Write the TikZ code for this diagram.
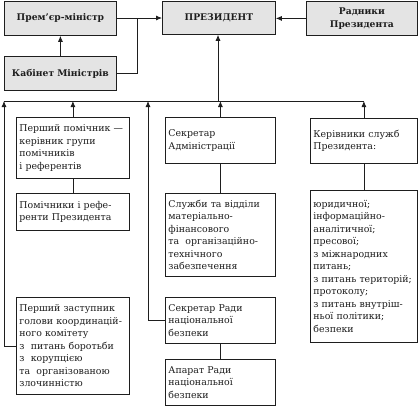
\documentclass[tikz,border=0pt]{standalone}
\usepackage{fontspec}
\setmainfont{DejaVu Serif}
\usetikzlibrary{arrows.meta}
\definecolor{boxgray}{HTML}{E4E4E4}
\definecolor{ink}{HTML}{1E1E1E}
\tikzset{
  bx/.style={draw=ink, line width=0.8pt, inner xsep=3pt, inner ysep=2pt, anchor=north west,
    align=left, text=ink, font=\fontsize{9.4}{12.5}\selectfont},
  topbx/.style={bx, fill=boxgray, align=center, font=\fontsize{9.2}{12.5}\selectfont\bfseries},
  sz/.style 2 args={minimum width=#1pt, minimum height=#2pt, text width={\dimexpr#1pt-6pt\relax}},
  con/.style={draw=ink, line width=0.8pt},
  arr/.style={con, -{Latex[length=6pt,width=5pt]}}
}
\begin{document}
\begin{tikzpicture}[x=1pt,y=-1pt]
\useasboundingbox (0,0) rectangle (419,407);
% top row
\node[topbx, sz={112}{34}] (pm) at (4,1) {Прем’єр-міністр};
\node[topbx, sz={112}{34}] (km) at (4,56) {Кабінет Міністрів};
\node[topbx, sz={113}{33}] (pres) at (162,1) {ПРЕЗИДЕНТ};
\node[topbx, sz={111}{34}] (rad) at (306,1) {Радники\\Президента};
% lower boxes
\node[bx, sz={113}{61}] (fh) at (16,117) {Перший помічник —\\керівник групи\\помічників\\і референтів};
\node[bx, sz={113}{37}] (pr) at (16,193) {Помічники і рефе-\\ренти Президента};
\node[bx, sz={113}{97}] (fz) at (16,297) {Перший заступник\\голови координацій-\\ного комітету\\з\ \ питань боротьби\\з\ \ корупцією\\та\ \ організованою\\злочинністю};
\node[bx, sz={110}{46}] (sa) at (165,117) {Секретар\\Адміністрації};
\node[bx, sz={110}{83}] (sl) at (165,193) {Служби та відділи\\матеріально-\\фінансового\\та\ \ організаційно-\\технічного\\забезпечення};
\node[bx, sz={110}{46}] (sr) at (165,297) {Секретар Ради\\національної\\безпеки};
\node[bx, sz={110}{46}] (ap) at (165,359) {Апарат Ради\\національної\\безпеки};
\node[bx, sz={107}{45}] (kc) at (310,118) {Керівники служб\\Президента:};
\node[bx, sz={107}{152}] (ks) at (310,190) {юридичної;\\інформаційно-\\аналітичної;\\пресової;\\з міжнародних\\питань;\\з питань територій;\\протоколу;\\з питань внутріш-\\ньої політики;\\безпеки};
% bus
\coordinate (busL) at (4,101);
\coordinate (busR) at (364,101);
\coordinate (kmj) at (137,18);
\coordinate (pbus) at (218,101);
\coordinate (sbus) at (148,101);
\draw[con] (busL) -- (busR);
% top connectors
\draw[arr] (km.north) -- (pm.south);
\draw[arr] (pm.east |- kmj) -- (pres.west |- kmj);
\draw[con] (km.east) -| (kmj);
\draw[arr] (rad.west) -- (pres.east |- rad.west);
\draw[arr] (pbus) -- (pbus |- pres.south);
% lower connectors
\draw[arr] (fz.west) -| (busL);
\draw[arr] (fh.north) -- (fh.north |- busL);
\draw[con] (pr.north) -- (fh.south);
\draw[arr] (sr.west) -| (sbus);
\draw[arr] (sa.north) -- (sa.north |- busL);
\draw[con] (sl.north) -- (sa.south);
\draw[con] (ap.north) -- (sr.south);
\draw[arr] (kc.north) -- (kc.north |- busL);
\draw[con] (ks.north) -- (kc.south);
\end{tikzpicture}
\end{document}
